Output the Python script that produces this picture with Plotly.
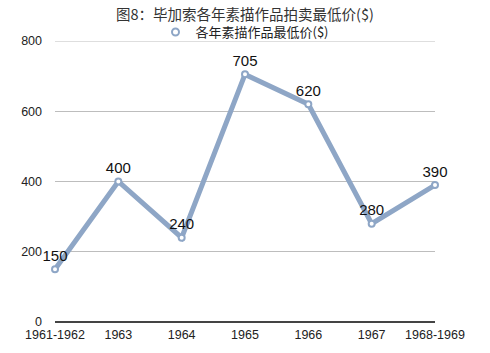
import plotly.graph_objects as go

categories = ["1961-1962", "1963", "1964", "1965", "1966", "1967", "1968-1969"]
values = [150, 400, 240, 705, 620, 280, 390]
series_name = "各年素描作品最低价($)"
title = "图8：毕加索各年素描作品拍卖最低价($)"
y_ticks = [0, 200, 400, 600, 800]

color = "#8ea6c6"
font_main = "Liberation Sans, Arial, Noto Sans CJK SC, sans-serif"
font_cjk = "Noto Sans CJK SC, sans-serif"

fig = go.Figure()
fig.add_trace(go.Scatter(
    x=categories, y=values, mode="lines+markers+text",
    text=[str(v) for v in values], textposition="top center",
    textfont=dict(size=15, color="#111", family=font_main),
    line=dict(color=color, width=5),
    marker=dict(symbol="circle", size=6, color="white", line=dict(color=color, width=2)),
    cliponaxis=False, showlegend=False, name=series_name,
))
fig.add_trace(go.Scatter(
    x=[None], y=[None], mode="markers", name=series_name,
    marker=dict(symbol="circle-open", size=7, color=color, line=dict(width=2)),
))

# top gridline (plotly drops gridlines on the plot edge)
fig.add_shape(type="line", xref="paper", x0=0, x1=1, yref="y", y0=y_ticks[-1], y1=y_ticks[-1],
              line=dict(color="#bdbdbd", width=1), layer="below")

fig.update_layout(
    width=490, height=353,
    margin=dict(l=55, r=55, t=41, b=31, autoexpand=False),
    paper_bgcolor="white", plot_bgcolor="white",
    font=dict(family=font_main, size=12.5, color="#222"),
    title=dict(text=title, x=0.5, xanchor="center", y=1 - 15 / 353, yanchor="middle",
               font=dict(size=14.5, family=font_cjk, color="#333")),
    legend=dict(orientation="h", x=0.5, xanchor="center", yref="container",
                y=1 - 32 / 353, yanchor="middle",
                font=dict(size=13, family=font_cjk, color="#222"),
                itemwidth=30, bgcolor="rgba(0,0,0,0)"),
    xaxis=dict(type="category", range=[0, 6], showgrid=False, ticks="", showline=False,
               tickfont=dict(size=12.5), zeroline=False, ticklabelstandoff=3),
    yaxis=dict(range=[0, 800], tickvals=y_ticks, showgrid=True, gridcolor="#bdbdbd",
               gridwidth=1, zeroline=True, zerolinecolor="#444", zerolinewidth=2,
               ticks="", showline=False, tickfont=dict(size=12.5), ticklabelstandoff=12),
)

fig.write_html("out.html")
